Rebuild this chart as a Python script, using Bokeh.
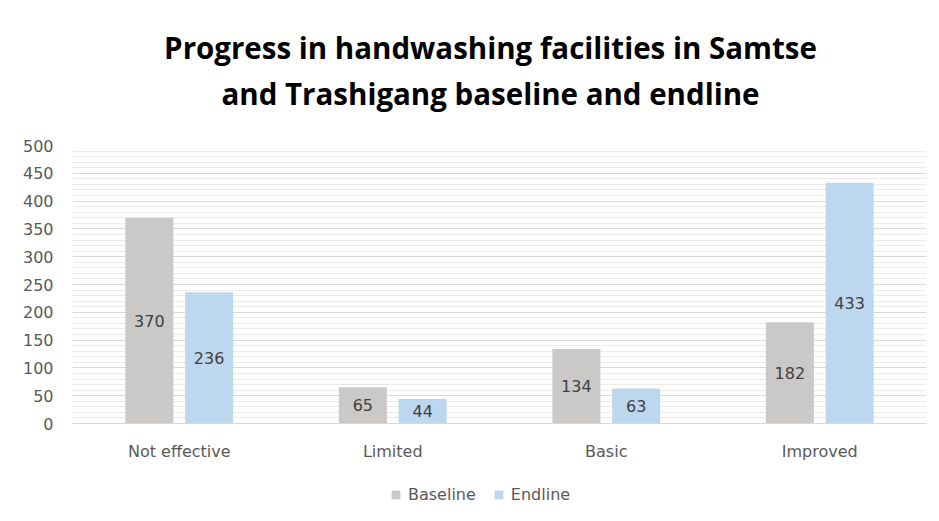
from bokeh.plotting import figure
from bokeh.layouts import column
from bokeh.models import (ColumnDataSource, FactorRange, Range1d, SingleIntervalTicker,
                          LabelSet, Label, Legend, LegendItem)
from bokeh.core.properties import value
from bokeh.transform import dodge
from bokeh.embed import file_html
from bokeh.resources import INLINE

# ---- data ----
categories = ["Not effective", "Limited", "Basic", "Improved"]
baseline = [370, 65, 134, 182]
endline = [236, 44, 63, 433]
series_names = ["Baseline", "Endline"]
title_lines = ["Progress in handwashing facilities in Samtse",
               "and Trashigang baseline and endline"]

colors = ["#CBC8C8", "#BDD7EE"]
TFONT = "Open Sans"
FONT = "DejaVu Sans"

src = ColumnDataSource(dict(
    cat=categories,
    base=baseline,
    end=endline,
    base_mid=[v / 2 for v in baseline],
    end_mid=[v / 2 for v in endline],
    base_txt=[str(v) for v in baseline],
    end_txt=[str(v) for v in endline],
))

# ---- title strip ----
pt = figure(width=939, height=120, output_backend="svg", toolbar_location=None,
            x_axis_location=None, y_axis_location=None, min_border=0,
            x_range=Range1d(0, 1), y_range=Range1d(0, 120))
pt.grid.visible = False
pt.outline_line_color = None
for txt, yb in [(title_lines[0], 73), (title_lines[1], 27)]:
    pt.add_layout(Label(x=0.5, y=yb, x_offset=-9, text=txt, text_align="center",
                        text_baseline="alphabetic", text_font=TFONT,
                        text_font_size="29.5px", text_font_style="bold",
                        text_color="#000000"))

# ---- main chart ----
p = figure(x_range=FactorRange(*categories), y_range=Range1d(0, 500),
           width=939, height=355, output_backend="svg", toolbar_location=None,
           min_border_left=72, min_border_right=13, min_border_top=25,
           min_border_bottom=52)

off = 0.14
bw = 0.225
r1 = p.vbar(x=dodge("cat", -off, range=p.x_range), top="base", width=bw, source=src,
            fill_color=colors[0], line_color=None)
r2 = p.vbar(x=dodge("cat", off, range=p.x_range), top="end", width=bw, source=src,
            fill_color=colors[1], line_color=None)

for xo, ycol, tcol in [(-off, "base_mid", "base_txt"), (off, "end_mid", "end_txt")]:
    p.add_layout(LabelSet(x=dodge("cat", xo, range=p.x_range), y=ycol, text=tcol, source=src,
                          text_align="center", text_baseline="middle",
                          text_font=value(FONT), text_font_size=value("16px"),
                          text_color="#404040"))

p.yaxis.ticker = SingleIntervalTicker(interval=50, num_minor_ticks=5)
p.yaxis.axis_line_color = None
p.yaxis.major_tick_line_color = None
p.yaxis.minor_tick_line_color = None
p.yaxis.major_label_text_font = FONT
p.yaxis.major_label_text_font_size = "16px"
p.yaxis.major_label_text_color = "#595959"
p.yaxis.major_label_standoff = 13

p.xaxis.axis_line_color = "#D9D9D9"
p.xaxis.major_tick_line_color = None
p.xaxis.minor_tick_line_color = None
p.xaxis.major_label_text_font = FONT
p.xaxis.major_label_text_font_size = "16px"
p.xaxis.major_label_text_color = "#595959"
p.xaxis.major_label_standoff = 12

p.xgrid.grid_line_color = None
p.ygrid.grid_line_color = "#D9D9D9"
p.ygrid.minor_grid_line_color = "#EBEBEB"
p.outline_line_color = None
p.background_fill_color = "white"
p.border_fill_color = "white"

# ---- legend strip ----
pl = figure(width=939, height=46, output_backend="svg", toolbar_location=None,
            x_axis_location=None, y_axis_location=None, min_border=0,
            x_range=FactorRange(*categories), y_range=Range1d(1000, 2000))
pl.grid.visible = False
pl.outline_line_color = None
# proxy renderers for the legend swatches (their bars lie below this strip's visible range)
l1 = pl.vbar(x="cat", top="base", width=0.1, source=src, fill_color=colors[0], line_color=None)
l2 = pl.vbar(x="cat", top="end", width=0.1, source=src, fill_color=colors[1], line_color=None)

legend = Legend(items=[LegendItem(label=series_names[0], renderers=[l1]),
                       LegendItem(label=series_names[1], renderers=[l2])],
                orientation="horizontal", location=(318, 17),
                padding=0, margin=0, spacing=17, label_standoff=7,
                glyph_width=11, glyph_height=11, label_height=20,
                label_text_font=FONT, label_text_font_size="16px",
                label_text_color="#595959", border_line_color=None,
                background_fill_alpha=0)
pl.add_layout(legend)

layout = column(pt, p, pl, spacing=0)
open("out.html", "w").write(file_html(layout, INLINE))
